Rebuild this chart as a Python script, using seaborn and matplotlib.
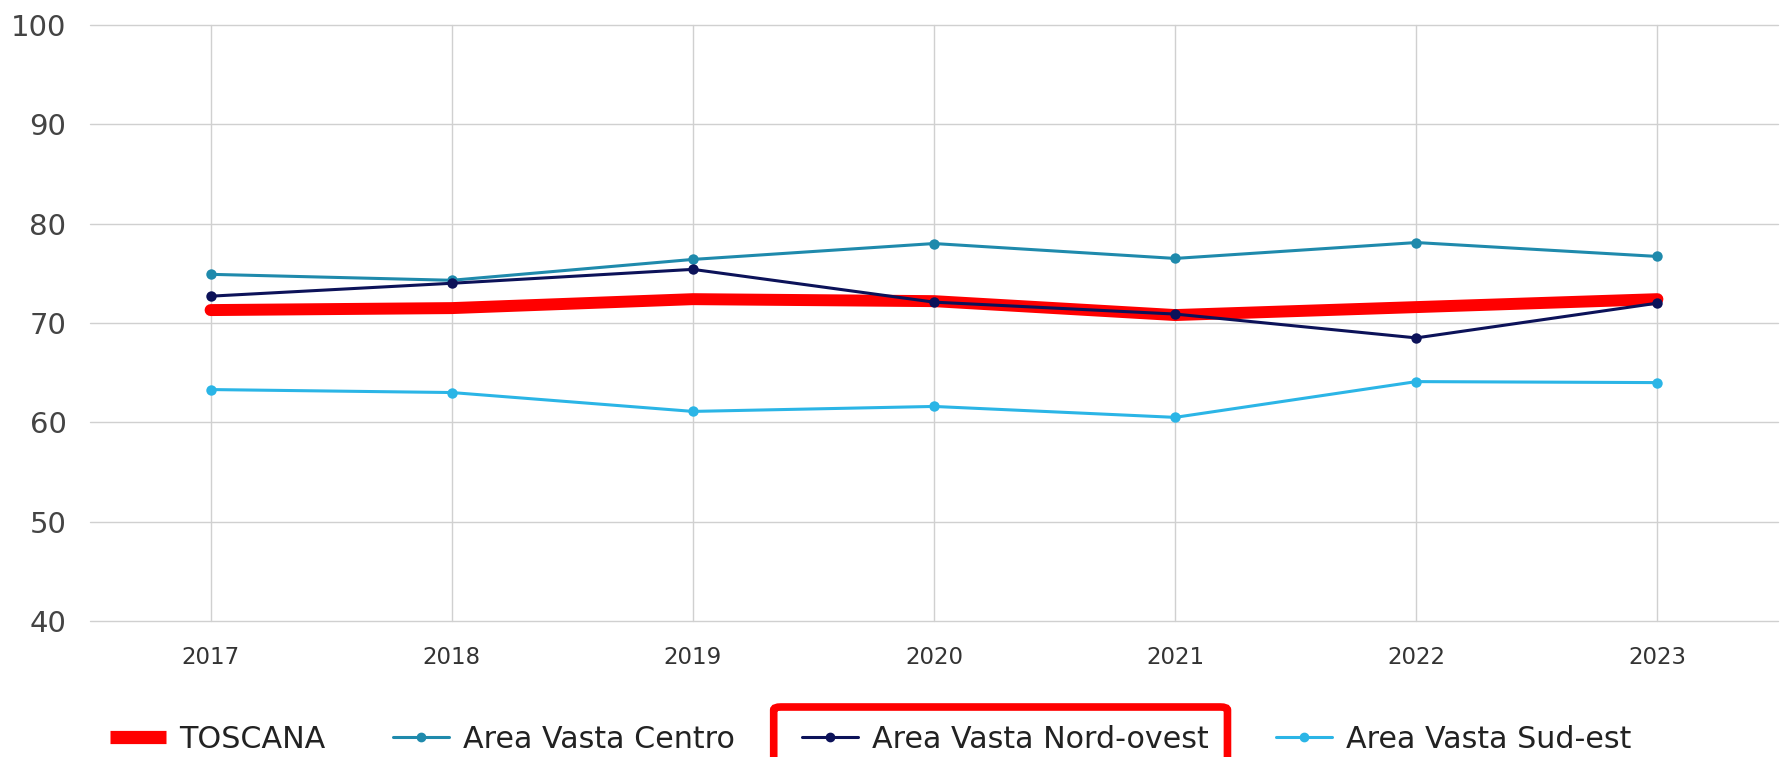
import numpy as np
import pandas as pd
import seaborn as sns
import matplotlib.pyplot as plt
from matplotlib.lines import Line2D
from matplotlib.patches import FancyBboxPatch

# --------------------------- DATA ---------------------------
years = ['2017', '2018', '2019', '2020', '2021', '2022', '2023']
toscana = [71.3, 71.5, 72.4, 72.2, 70.8, 71.6, 72.4]
centro = [74.9, 74.3, 76.4, 78.0, 76.5, 78.1, 76.7]
nord_ovest = [72.7, 74.0, 75.4, 72.1, 70.9, 68.5, 72.0]
sud_est = [63.3, 63.0, 61.1, 61.6, 60.5, 64.1, 64.0]

series_names = ['TOSCANA', 'Area Vasta Centro', 'Area Vasta Nord-ovest', 'Area Vasta Sud-est']
series_values = [toscana, centro, nord_ovest, sud_est]
y_ticks = [40, 50, 60, 70, 80, 90, 100]

colors = {
    'TOSCANA': '#ff0000',
    'Area Vasta Centro': '#1f8aac',
    'Area Vasta Nord-ovest': '#0c1259',
    'Area Vasta Sud-est': '#2bb5e6',
}

# --------------------------- SETTINGS ---------------------------
sns.set_style("whitegrid")
plt.rcParams['font.family'] = ['DejaVu Sans']

W, H = 1787, 757
fig = plt.figure(figsize=(W / 100, H / 100), dpi=100)
ax = fig.add_axes([90 / W, 136 / H, (1778 - 90) / W, (621 - 25) / H])

df = pd.DataFrame({'year': years})
for name, vals in zip(series_names, series_values):
    df[name] = vals
long = df.melt(id_vars='year', var_name='series', value_name='value')

# thick red line first, so the thin lines sit on top
sns.lineplot(data=long[long['series'] == 'TOSCANA'], x='year', y='value',
             color=colors['TOSCANA'], linewidth=8.6, ax=ax, legend=False,
             zorder=2, solid_capstyle='round')

for name in series_names[1:]:
    sns.lineplot(data=long[long['series'] == name], x='year', y='value',
                 color=colors[name], linewidth=2.2, marker='o', markersize=7.5,
                 markeredgewidth=0, ax=ax, legend=False, zorder=3)

ax.set_xlim(-0.5, len(years) - 0.5)
ax.set_ylim(40, 100)
ax.set_yticks(y_ticks)
ax.set_xlabel('')
ax.set_ylabel('')

ax.grid(True, color='#d0d0d0', linewidth=1.0)
for gl in ax.get_xgridlines() + ax.get_ygridlines():
    gl.set_clip_on(False)
for s in ax.spines.values():
    s.set_visible(False)

ax.tick_params(axis='y', length=0, pad=17, labelsize=21, labelcolor='#444444')
ax.tick_params(axis='x', length=0, pad=18, labelsize=16.5, labelcolor='#333333')

# --------------------------- LEGEND ---------------------------
handles = [
    Line2D([], [], color=colors['TOSCANA'], linewidth=9.5, solid_capstyle='butt'),
    Line2D([], [], color=colors['Area Vasta Centro'], linewidth=2.2, marker='o', markersize=6),
    Line2D([], [], color=colors['Area Vasta Nord-ovest'], linewidth=2.2, marker='o', markersize=6),
    Line2D([], [], color=colors['Area Vasta Sud-est'], linewidth=2.2, marker='o', markersize=6),
]
leg = fig.legend(handles, series_names, loc='center left',
                 bbox_to_anchor=(110 / W, 18 / H), ncol=4, frameon=False,
                 fontsize=21.7, handlelength=1.85, handletextpad=0.45,
                 columnspacing=2.25, borderaxespad=0, borderpad=0,
                 labelcolor='#222222')

# red highlight box round the Nord-ovest legend entry
fig.canvas.draw()
tb = leg.get_texts()[2].get_window_extent()
x0 = tb.x0 - 98
x1 = tb.x1 + 19
box = FancyBboxPatch((x0 / W, -0.05), (x1 - x0) / W, 0.05 + (H - 707) / H,
                     boxstyle='round,pad=0,rounding_size=0.004',
                     transform=fig.transFigure, fill=False,
                     edgecolor='#ff0000', linewidth=5.5, clip_on=False)
fig.patches.append(box)

fig.savefig('out.png', dpi=100)
